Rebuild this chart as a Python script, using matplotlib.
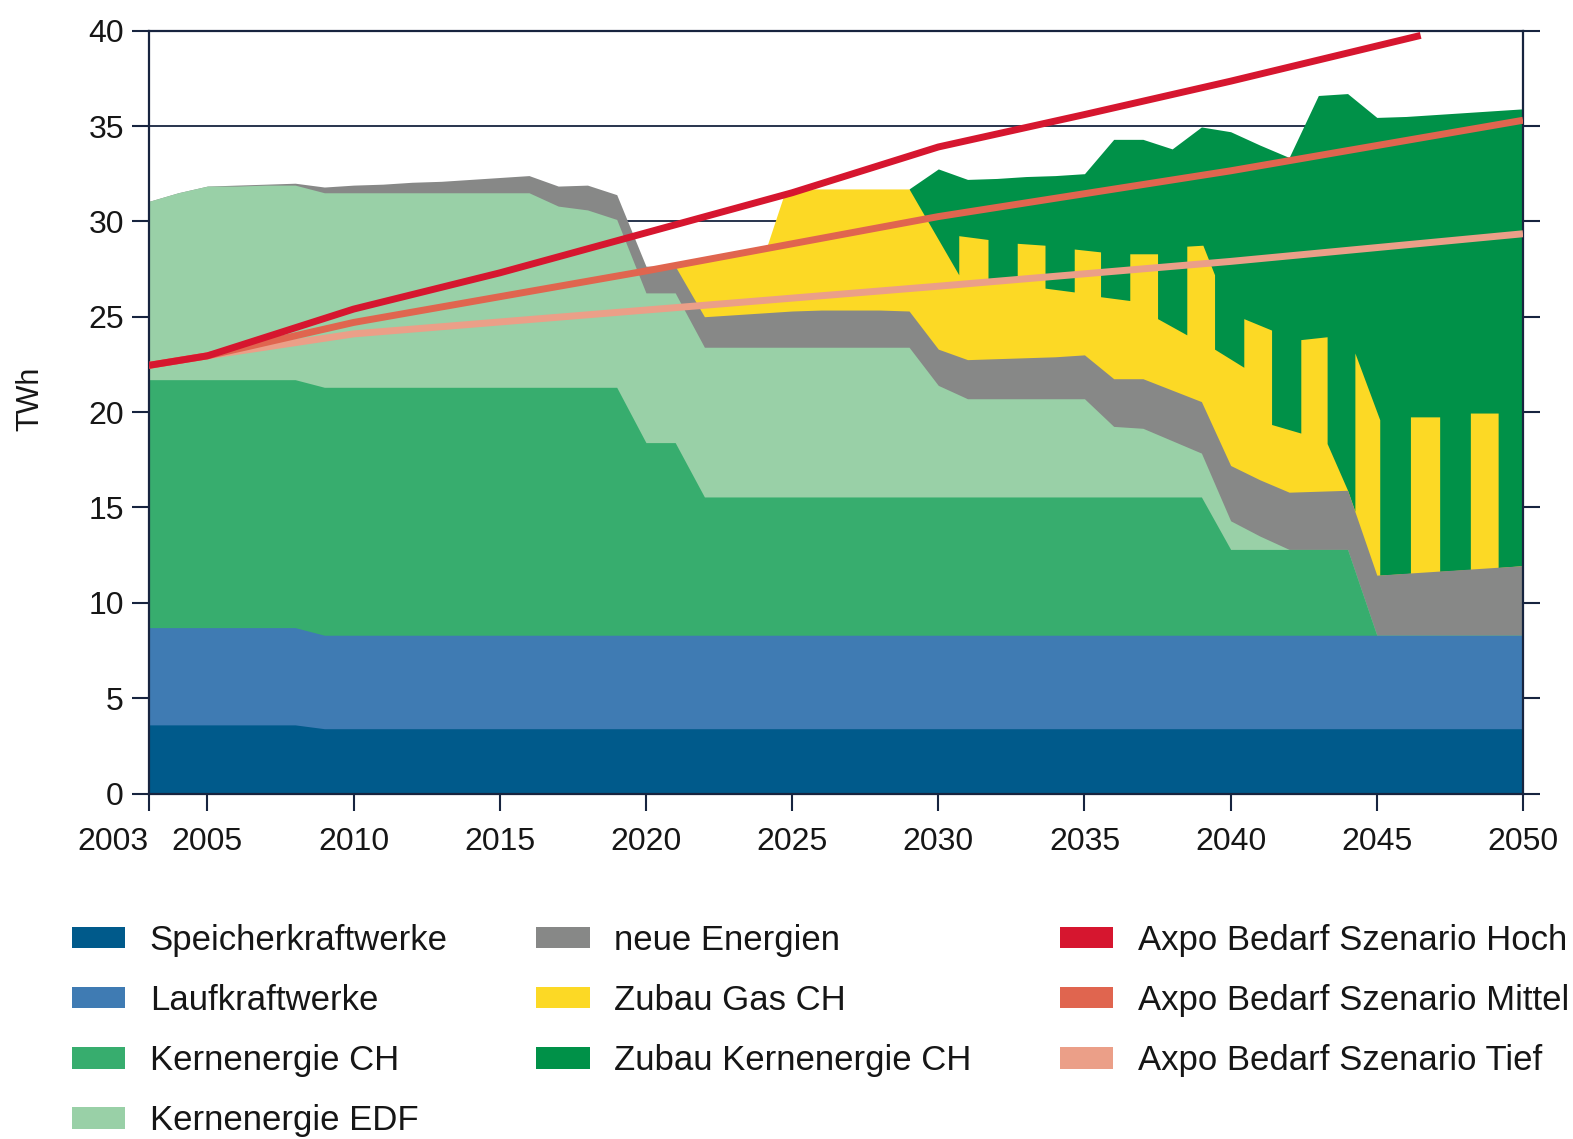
import numpy as np
import matplotlib
matplotlib.use("Agg")
import matplotlib.pyplot as plt
from matplotlib.patches import Patch

plt.rcParams['font.family'] = ['Liberation Sans', 'DejaVu Sans']

# ---------------- data (TWh, cumulative upper edges) ----------------
years = np.arange(2003, 2051)

speicher_top = [3.6, 3.6, 3.6, 3.6, 3.6, 3.6,
                3.4, 3.4, 3.4, 3.4, 3.4, 3.4, 3.4, 3.4, 3.4, 3.4, 3.4,
                3.4, 3.4, 3.4, 3.4, 3.4, 3.4, 3.4, 3.4, 3.4, 3.4,
                3.4, 3.4, 3.4, 3.4, 3.4, 3.4, 3.4, 3.4, 3.4, 3.4,
                3.4, 3.4, 3.4, 3.4, 3.4, 3.4, 3.4, 3.4, 3.4, 3.4, 3.4]

lauf_top = [8.7, 8.7, 8.7, 8.7, 8.7, 8.7,
            8.3, 8.3, 8.3, 8.3, 8.3, 8.3, 8.3, 8.3, 8.3, 8.3, 8.3,
            8.3, 8.3, 8.3, 8.3, 8.3, 8.3, 8.3, 8.3, 8.3, 8.3,
            8.3, 8.3, 8.3, 8.3, 8.3, 8.3, 8.3, 8.3, 8.3, 8.3,
            8.3, 8.3, 8.3, 8.3, 8.3, 8.3, 8.3, 8.3, 8.3, 8.3, 8.3]

kern_ch_top = [21.7, 21.7, 21.7, 21.7, 21.7, 21.7,
               21.3, 21.3, 21.3, 21.3, 21.3, 21.3, 21.3, 21.3, 21.3, 21.3, 21.3,
               18.4, 18.4,
               15.55, 15.55, 15.55, 15.55, 15.55, 15.55, 15.55, 15.55, 15.55,
               15.55, 15.55, 15.55, 15.55, 15.55, 15.55, 15.55, 15.55, 15.55,
               12.8, 12.8, 12.8, 12.8, 12.8,
               8.3, 8.3, 8.3, 8.3, 8.3, 8.3]

kern_edf_top = [31.05, 31.5, 31.85, 31.85, 31.9, 31.9,
                31.5, 31.5, 31.5, 31.5, 31.5, 31.5, 31.5, 31.5,
                30.8, 30.6, 30.1, 26.25, 26.25,
                23.4, 23.4, 23.4, 23.4, 23.4, 23.4, 23.4, 23.4,
                21.4, 20.7, 20.7, 20.7, 20.7, 20.7,
                19.25, 19.15, 18.5, 17.85,
                14.3, 13.5, 12.8, 12.8, 12.8,
                8.3, 8.3, 8.3, 8.3, 8.3, 8.3]

neue_top = [31.05, 31.5, 31.85, 31.9, 31.95, 32.0,
            31.8, 31.9, 31.95, 32.05, 32.1, 32.2, 32.3, 32.4,
            31.85, 31.9, 31.4, 27.65, 27.65,
            25.0, 25.1, 25.2, 25.3, 25.35, 25.35, 25.35, 25.3,
            23.3, 22.75, 22.8, 22.85, 22.9, 23.0,
            21.75, 21.75, 21.15, 20.55,
            17.2, 16.45, 15.8, 15.85, 15.9,
            11.45, 11.55, 11.65, 11.75, 11.85, 11.95]

# Zubau Gas CH: upper edge (drawn in the source as alternating yearly columns)
gas_years = [2021.0, 2022.0, 2024.15, 2024.7, 2025.0, 2029.0,
             2030.7, 2030.7, 2031.7, 2031.7, 2032.7, 2032.7, 2033.65, 2033.65,
             2034.65, 2034.65, 2035.55, 2035.55, 2036.55, 2036.55, 2037.5, 2037.5,
             2038.5, 2038.5, 2039.05, 2039.45, 2039.45, 2040.45, 2040.45, 2041.4,
             2041.4, 2042.4, 2042.4, 2043.3, 2043.3, 2044.0, 2044.25, 2044.25,
             2045.1, 2045.1, 2046.15, 2046.15, 2047.15, 2047.15, 2048.2, 2048.2,
             2049.15, 2049.15, 2050.0]
gas_top = [27.65, 28.1, 28.75, 31.3, 31.7, 31.7,
           27.2, 29.25, 29.05, 27.0, 27.05, 28.85, 28.75, 26.5,
           26.3, 28.55, 28.4, 26.05, 25.85, 28.3, 28.3, 24.9,
           24.05, 28.7, 28.75, 27.2, 23.3, 22.35, 24.9, 24.3,
           19.35, 18.9, 23.8, 23.95, 18.35, 15.9, 14.8, 23.1,
           19.6, 11.45, 11.55, 19.75, 19.75, 11.65, 11.75, 19.95,
           19.95, 11.85, 11.95]

# Zubau Kernenergie CH: upper edge (= total supply)
zk_years = np.arange(2029, 2051)
zk_top = [31.7, 32.75, 32.2, 32.25, 32.35, 32.4, 32.5, 34.3, 34.3, 33.8, 34.95,
          34.7, 34.0, 33.35, 36.6, 36.7, 35.45, 35.5, 35.6, 35.7, 35.8, 35.9]

# Demand scenarios
hoch_years = [2003, 2005, 2010, 2015, 2020, 2025, 2030, 2035, 2040, 2046.5]
hoch = [22.45, 22.95, 25.4, 27.3, 29.4, 31.5, 33.9, 35.6, 37.35, 39.75]
mittel_years = [2003, 2005, 2010, 2020, 2030, 2040, 2050]
mittel = [22.45, 22.95, 24.7, 27.4, 30.25, 32.65, 35.3]
tief_years = [2003, 2005, 2010, 2020, 2030, 2040, 2050]
tief = [22.45, 22.95, 24.1, 25.35, 26.6, 27.9, 29.35]

labels = ["Speicherkraftwerke", "Laufkraftwerke", "Kernenergie CH", "Kernenergie EDF",
          "neue Energien", "Zubau Gas CH", "Zubau Kernenergie CH",
          "Axpo Bedarf Szenario Hoch", "Axpo Bedarf Szenario Mittel", "Axpo Bedarf Szenario Tief"]
xticks = [2003, 2005, 2010, 2015, 2020, 2025, 2030, 2035, 2040, 2045, 2050]
yticks = [0, 5, 10, 15, 20, 25, 30, 35, 40]

# ---------------- style ----------------
C_SPEI = "#005a8b"
C_LAUF = "#3f7bb3"
C_KCH = "#37ad6e"
C_EDF = "#99d0a7"
C_NEUE = "#878887"
C_GAS = "#fcd925"
C_ZK = "#009148"
C_HOCH = "#d6162f"
C_MITT = "#e0654f"
C_TIEF = "#eb9f88"
NAVY = "#17243f"
TXT = "#161616"

fig = plt.figure(figsize=(15.73, 11.39), dpi=100)
ax = fig.add_axes([0.0947, 0.3033, 0.8735, 0.6698])

# areas (each painted from the baseline, upper layers first -> stacked look without seams)
ax.fill_between(zk_years, 0, zk_top, color=C_ZK, lw=0)
ax.fill_between(gas_years, 0, gas_top, color=C_GAS, lw=0)
ax.fill_between(years, 0, neue_top, color=C_NEUE, lw=0)
ax.fill_between(years, 0, kern_edf_top, color=C_EDF, lw=0)
ax.fill_between(years, 0, kern_ch_top, color=C_KCH, lw=0)
ax.fill_between(years, 0, lauf_top, color=C_LAUF, lw=0)
ax.fill_between(years, 0, speicher_top, color=C_SPEI, lw=0)

# demand lines
ax.plot(tief_years, tief, color=C_TIEF, lw=5, solid_capstyle='butt', zorder=3)
ax.plot(mittel_years, mittel, color=C_MITT, lw=5, solid_capstyle='butt', zorder=4)
ax.plot(hoch_years, hoch, color=C_HOCH, lw=5, solid_capstyle='butt', zorder=5)

ax.set_xlim(2003, 2050)
ax.set_ylim(0, 40)
ax.set_xticks(xticks)
ax.set_yticks(yticks)
ax.set_xticklabels([str(t) for t in xticks])
ax.set_yticklabels([str(t) for t in yticks])
ax.get_xticklabels()[0].set_horizontalalignment('right')

ax.yaxis.grid(True, color=NAVY, lw=1.3)
ax.set_axisbelow(True)
for s in ax.spines.values():
    s.set_color(NAVY)
    s.set_linewidth(1.6)
ax.tick_params(axis='both', direction='out', length=12, width=1.5, color=NAVY,
               labelsize=23, labelcolor=TXT)
ax.tick_params(axis='y', right=True, pad=6)
ax.tick_params(axis='x', pad=12)

fig.text(30 / 1573, 1 - 399 / 1139, "TWh", rotation=90, fontsize=22, color=TXT,
         ha='center', va='center')

colors = [C_SPEI, C_LAUF, C_KCH, C_EDF, C_NEUE, C_GAS, C_ZK, C_HOCH, C_MITT, C_TIEF]
handles = [Patch(facecolor=c, edgecolor='none') for c in colors]
leg = fig.legend(handles, labels, loc='upper left', bbox_to_anchor=(72 / 1573, 0.1888),
                 ncol=3, frameon=False, fontsize=25, handlelength=1.54, handleheight=0.57,
                 handletextpad=0.7, labelspacing=0.78, columnspacing=2.55,
                 borderpad=0, borderaxespad=0)
for t in leg.get_texts():
    t.set_color(TXT)

fig.savefig("out.png", dpi=100)
